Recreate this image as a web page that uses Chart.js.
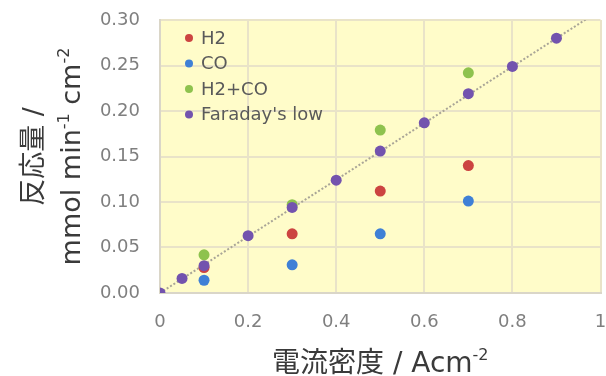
<!DOCTYPE html>
<html>
<head>
<meta charset="utf-8">
<script src="https://cdn.jsdelivr.net/npm/chart.js@4.4.1/dist/chart.umd.min.js"></script>
<style>
  html, body { margin: 0; padding: 0; background: #fff; }
  #wrap { width: 606px; height: 376px; position: relative; }
</style>
</head>
<body>
<div id="wrap"><canvas id="grafico"></canvas></div>
<script>
// --- datos ---
const corriente = [0.1, 0.3, 0.5, 0.7];
const h2 = [0.028, 0.065, 0.112, 0.140];
const co = [0.014, 0.031, 0.065, 0.101];
const h2co = [0.042, 0.097, 0.179, 0.242];

const corrienteFaraday = [0, 0.05, 0.1, 0.2, 0.3, 0.4, 0.5, 0.6, 0.7, 0.8, 0.9];
const faraday = [0, 0.016, 0.030, 0.063, 0.094, 0.124, 0.156, 0.187, 0.219, 0.249, 0.280];

// línea punteada (teórica), se recorta en el borde superior
const rectaX = [0, 1];
const rectaY = [0, 0.311];

const etiquetas = ['H2', 'CO', 'H2+CO', "Faraday's low"];
const ticksX = ['0', '0.2', '0.4', '0.6', '0.8', '1'];
const ticksY = ['0.00', '0.05', '0.10', '0.15', '0.20', '0.25', '0.30'];

const tituloX = [{ t: '電流密度 / Acm' }, { t: '-2', sup: true }];
const tituloY1 = [{ t: '反応量 /' }];
const tituloY2 = [{ t: 'mmol min' }, { t: '-1', sup: true }, { t: ' cm' }, { t: '-2', sup: true }];

const colores = ['#CC4441', '#3F80D6', '#8EC24E', '#7353AE'];
const fuente = "'DejaVu Sans', 'Noto Sans CJK JP', sans-serif";

function puntos(xs, ys) {
    return xs.map((x, i) => ({ x: x, y: ys[i] }));
}

// texto con superíndices
function dibujarTexto(ctx, partes, cx, base, size) {
    const supSize = Math.round(size * 0.58);
    let total = 0;
    partes.forEach(p => {
        ctx.font = (p.sup ? supSize : size) + 'px ' + fuente;
        total += ctx.measureText(p.t).width;
    });
    let x = cx - total / 2;
    ctx.textAlign = 'left';
    ctx.textBaseline = 'alphabetic';
    partes.forEach(p => {
        ctx.font = (p.sup ? supSize : size) + 'px ' + fuente;
        ctx.fillText(p.t, x, p.sup ? base - size * 0.42 : base);
        x += ctx.measureText(p.t).width;
    });
}

const fondoPlugin = {
    id: 'fondo',
    beforeDraw(chart) {
        const a = chart.chartArea;
        const ctx = chart.ctx;
        ctx.save();
        ctx.fillStyle = '#FFFCC9';
        ctx.fillRect(a.left, a.top, a.right - a.left, a.bottom - a.top);
        ctx.restore();
    }
};

const textosPlugin = {
    id: 'textos',
    afterDraw(chart) {
        const ctx = chart.ctx;
        const a = chart.chartArea;
        ctx.save();
        ctx.fillStyle = '#3a3a3a';
        dibujarTexto(ctx, tituloX, (a.left + a.right) / 2, 372, 28);

        const cy = (a.top + a.bottom) / 2;
        ctx.translate(0, cy);
        ctx.rotate(-Math.PI / 2);
        dibujarTexto(ctx, tituloY1, 0, 42, 27);
        dibujarTexto(ctx, tituloY2, 0, 80, 27);
        ctx.restore();

        // leyenda dentro del área
        ctx.save();
        ctx.font = '18px ' + fuente;
        ctx.textBaseline = 'middle';
        ctx.textAlign = 'left';
        const x0 = a.left + 29;
        const y0 = a.top + 18;
        etiquetas.forEach((et, i) => {
            const y = y0 + i * 25.5;
            ctx.fillStyle = colores[i];
            ctx.beginPath();
            ctx.arc(x0, y, 4, 0, Math.PI * 2);
            ctx.fill();
            ctx.fillStyle = '#5a5a5a';
            ctx.fillText(et, x0 + 12, y + 1);
        });
        ctx.restore();
    }
};

const serie = (label, data, color, order) => ({
    label: label,
    data: data,
    backgroundColor: color,
    borderColor: color,
    pointRadius: 5.5,
    pointHoverRadius: 5.5,
    borderWidth: 0,
    showLine: false,
    order: order
});

const grid = { color: '#E9E3C8', lineWidth: 2, drawTicks: false };
const borde = { color: '#DAD6C8', width: 2 };

new Chart(document.getElementById('grafico'), {
    type: 'scatter',
    data: {
        datasets: [
            serie(etiquetas[0], puntos(corriente, h2), colores[0], 3),
            serie(etiquetas[1], puntos(corriente, co), colores[1], 2),
            serie(etiquetas[2], puntos(corriente, h2co), colores[2], 1),
            serie(etiquetas[3], puntos(corrienteFaraday, faraday), colores[3], 0),
            {
                label: '',
                data: puntos(rectaX, rectaY),
                showLine: true,
                borderColor: '#A9A597',
                borderWidth: 2,
                borderDash: [2, 2],
                pointRadius: 0,
                order: 4
            }
        ]
    },
    options: {
        responsive: true,
        maintainAspectRatio: false,
        animation: false,
        layout: { padding: { left: 80, top: 20, right: 5, bottom: 0 } },
        plugins: { legend: { display: false }, tooltip: { enabled: false } },
        scales: {
            x: {
                type: 'linear',
                min: 0,
                max: 1,
                grid: grid,
                border: borde,
                afterBuildTicks: s => { s.ticks = ticksX.map(v => ({ value: parseFloat(v) })); },
                afterFit: s => { s.height = 83; s.paddingLeft = 0; s.paddingRight = 0; },
                ticks: {
                    padding: 19,
                    color: '#7f7f7f',
                    font: { family: fuente, size: 18 },
                    maxRotation: 0,
                    callback: (v, i) => ticksX[i]
                }
            },
            y: {
                min: 0,
                max: 0.3,
                grid: grid,
                border: borde,
                afterBuildTicks: s => { s.ticks = ticksY.map(v => ({ value: parseFloat(v) })); },
                afterFit: s => { s.width = 80; s.paddingTop = 0; s.paddingBottom = 0; },
                ticks: {
                    padding: 20,
                    color: '#7f7f7f',
                    font: { family: fuente, size: 18 },
                    callback: (v, i) => ticksY[i]
                }
            }
        }
    },
    plugins: [fondoPlugin, textosPlugin]
});
</script>
</body>
</html>
